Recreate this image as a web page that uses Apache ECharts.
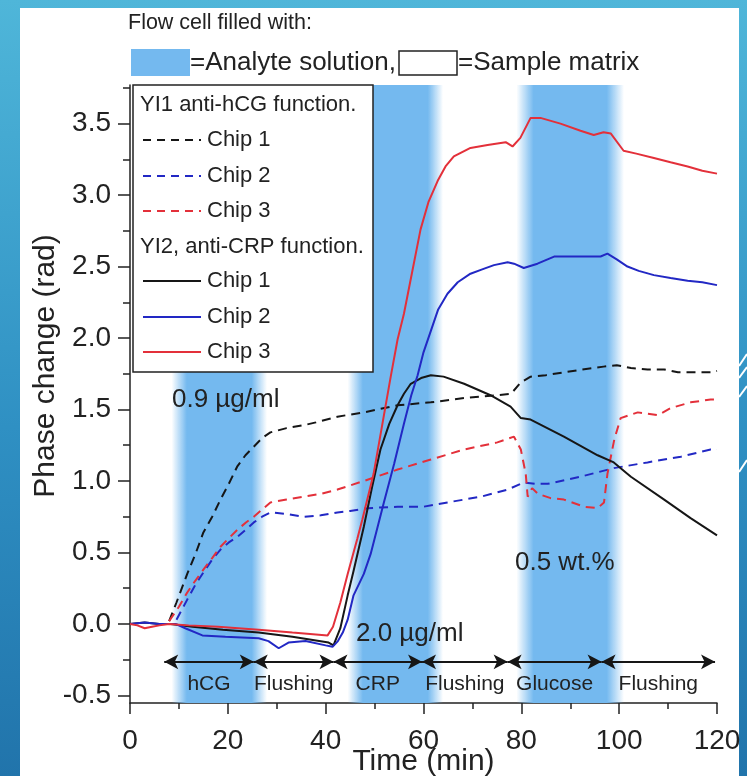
<!DOCTYPE html>
<html>
<head>
<meta charset="utf-8">
<title>Phase change</title>
<script src="https://cdn.jsdelivr.net/npm/echarts/dist/echarts.min.js"></script>
<style>
  html, body { margin: 0; padding: 0; }
  body {
    width: 747px; height: 776px; position: relative; overflow: hidden;
    background: linear-gradient(180deg, #4fb6d9 0%, #2f90c3 55%, #2174ab 100%);
  }
  #panel { position: absolute; left: 20px; top: 8px; width: 719px; height: 768px; background: #fff; }
  #chart { position: absolute; left: 0; top: 0; width: 747px; height: 776px; }
</style>
</head>
<body>
<div id="panel"></div>
<div id="chart"></div>
<script>
const FONT = '"Liberation Sans", Arial, sans-serif'
const INK = '#222'
const BLACK = '#161616'
const BLUE = '#2228c4'
const RED = '#e3303a'
const BAND = '#74b9ef'

// YI1, anti-hCG function (dashed)
const hcgChip1T = [8, 9.5, 11.7, 13.5, 15, 16.8, 18.5, 20.2, 21.9, 23.6, 25.3, 27, 28.7, 32, 35.5, 38, 42.4, 47.8, 54.7, 61.5, 68.3, 75.1, 77.9, 79.9, 81.9, 85, 88.7, 92.5, 96.8, 99.5, 102.4, 105.8, 109.2, 112, 114.6, 118.7, 120]
const hcgChip1V = [0.02, 0.15, 0.35, 0.5, 0.64, 0.75, 0.87, 0.98, 1.1, 1.18, 1.24, 1.3, 1.34, 1.37, 1.39, 1.41, 1.45, 1.48, 1.53, 1.55, 1.58, 1.6, 1.61, 1.69, 1.73, 1.74, 1.76, 1.78, 1.8, 1.81, 1.79, 1.78, 1.78, 1.76, 1.76, 1.76, 1.77]
const hcgChip2T = [9.5, 11.7, 13.3, 15, 16.8, 18.5, 20.2, 22, 23.7, 25.3, 27, 28.7, 32, 35.5, 39, 42.4, 45, 48.6, 54.7, 60, 64.9, 71.7, 77.2, 80.5, 83, 85.4, 92.1, 98.9, 105.8, 112.6, 118.7, 120]
const hcgChip2V = [0.03, 0.17, 0.27, 0.36, 0.45, 0.52, 0.57, 0.61, 0.66, 0.71, 0.75, 0.78, 0.77, 0.75, 0.76, 0.78, 0.79, 0.81, 0.82, 0.82, 0.85, 0.89, 0.94, 0.99, 0.98, 0.98, 1.03, 1.09, 1.13, 1.17, 1.22, 1.22]
const hcgChip3T = [8, 10, 11.7, 13.3, 15, 16.8, 18.5, 20.2, 22, 23.7, 25.3, 27, 28.7, 32, 35.5, 39, 42.4, 47.8, 54.7, 61.5, 68.3, 75.1, 78.5, 79.9, 80.9, 81.3, 82.2, 83.4, 86, 88.7, 92.8, 95.6, 96.9, 97.6, 99, 100.3, 102, 103.8, 107.9, 110.5, 114.6, 118.7, 120]
const hcgChip3V = [0.02, 0.12, 0.22, 0.3, 0.38, 0.46, 0.54, 0.6, 0.66, 0.71, 0.75, 0.8, 0.85, 0.87, 0.89, 0.91, 0.94, 1.0, 1.08, 1.15, 1.22, 1.27, 1.31, 1.22, 1.05, 0.89, 0.95, 0.91, 0.88, 0.87, 0.82, 0.81, 0.85, 1.05, 1.29, 1.44, 1.46, 1.48, 1.46, 1.51, 1.55, 1.57, 1.57]

// YI2, anti-CRP function (solid)
const crpChip1T = [0, 3, 6, 8.3, 12.8, 19, 26.3, 33.2, 40.6, 41.6, 43, 44.5, 45.7, 47.8, 49.5, 51.2, 53, 54.7, 56, 57.4, 59.5, 61.5, 64.1, 68.3, 73.7, 77.8, 79.9, 81.9, 88.7, 95.6, 98.9, 102.4, 109.2, 114.6, 120]
const crpChip1V = [0, 0.01, 0, 0, -0.02, -0.04, -0.06, -0.09, -0.13, -0.15, -0.03, 0.2, 0.37, 0.68, 0.96, 1.22, 1.4, 1.53, 1.61, 1.68, 1.72, 1.74, 1.73, 1.68, 1.6, 1.52, 1.44, 1.43, 1.31, 1.18, 1.13, 1.03, 0.87, 0.74, 0.62]
const crpChip2T = [0, 3, 6, 9.3, 11.3, 14.8, 19.5, 26.3, 28.3, 30.4, 32.4, 35.9, 40, 41.4, 42.5, 43.5, 44.5, 45.7, 47.8, 49.2, 51.9, 54, 56, 57.5, 58.8, 60, 61.5, 63, 64.9, 67, 69.6, 72, 74.4, 77.2, 78.5, 80.5, 83.3, 86.7, 90.8, 96.2, 97.6, 99.5, 101.7, 104, 107.1, 110.5, 114, 117, 120]
const crpChip2V = [0, 0.01, 0, 0, -0.03, -0.08, -0.09, -0.1, -0.12, -0.17, -0.13, -0.12, -0.15, -0.16, -0.12, -0.06, 0.03, 0.2, 0.35, 0.49, 0.85, 1.12, 1.4, 1.6, 1.74, 1.9, 2.05, 2.2, 2.31, 2.39, 2.45, 2.48, 2.51, 2.53, 2.52, 2.49, 2.52, 2.57, 2.57, 2.57, 2.59, 2.55, 2.5, 2.47, 2.44, 2.42, 2.4, 2.39, 2.37]
const crpChip3T = [0, 1.5, 3, 4.5, 6, 8, 12, 18, 26.3, 33.2, 40.4, 41.5, 43, 44.5, 45.7, 46.5, 47.5, 49.8, 51.5, 53.3, 54.7, 56, 57.5, 59.4, 61, 62.9, 64.5, 66.2, 69.6, 73.1, 76.8, 78.2, 79.8, 81.9, 83.9, 88, 92.1, 94.8, 96.8, 98.3, 100.9, 103.5, 107.1, 110.5, 114, 117, 120]
const crpChip3V = [0, -0.01, -0.03, -0.02, -0.01, 0, -0.01, -0.02, -0.04, -0.06, -0.08, -0.02, 0.15, 0.35, 0.5, 0.6, 0.73, 1.05, 1.38, 1.73, 1.99, 2.17, 2.43, 2.76, 2.95, 3.1, 3.2, 3.27, 3.33, 3.35, 3.37, 3.34, 3.4, 3.54, 3.54, 3.5, 3.45, 3.42, 3.44, 3.43, 3.31, 3.29, 3.26, 3.23, 3.2, 3.17, 3.15]

// flow cell filled with analyte solution (min)
const bandStart = [8.5, 44.5, 79]
const bandEnd = [28, 64, 101]

// protocol arrows along the bottom
const phaseEdges = [7, 25.3, 41.6, 59.7, 77.2, 96.4, 119.6]
const phaseNames = ['hCG', 'Flushing', 'CRP', 'Flushing', 'Glucose', 'Flushing']
const phaseLevel = -0.265

// axes
const yLabels = [-0.5, 0, 0.5, 1, 1.5, 2, 2.5, 3, 3.5]
const yMinor = [-0.25, 0.25, 0.75, 1.25, 1.75, 2.25, 2.75, 3.25, 3.75]
const Y_MIN = -0.553
const Y_MAX = 3.77

const pair = (t, v) => t.map((x, i) => [x, v[i]])

function curve (name, t, v, color, type) {
  return {
    name: name,
    type: 'line',
    data: pair(t, v),
    showSymbol: false,
    symbol: 'none',
    z: 3,
    lineStyle: { color: color, width: 2, type: type === 'dashed' ? [9, 6] : 'solid' },
    itemStyle: { color: color },
    animation: false
  }
}

const bandColor = new echarts.graphic.LinearGradient(0, 0, 1, 0, [
  { offset: 0, color: 'rgba(116,185,239,0)' },
  { offset: 0.16, color: BAND },
  { offset: 0.84, color: BAND },
  { offset: 1, color: 'rgba(116,185,239,0)' }
])

// legend and annotations
const txt = (x, y, s, size, extra) => Object.assign({
  type: 'text', x: x, y: y, z: 101,
  style: { text: s, fill: INK, font: size + 'px ' + FONT, textVerticalAlign: 'middle' }
}, extra || {})
const seg = (x1, x2, y, color, dashed) => ({
  type: 'line', z: 101,
  shape: { x1: x1, y1: y, x2: x2, y2: y },
  style: { stroke: color, lineWidth: 2, lineDash: dashed ? [8, 6] : null }
})

const legendRows = [
  { y: 140, c: BLACK, d: true }, { y: 176, c: BLUE, d: true }, { y: 211, c: RED, d: true },
  { y: 281, c: BLACK, d: false }, { y: 317, c: BLUE, d: false }, { y: 352, c: RED, d: false }
]
const legendGraphic = [
  { type: 'rect', z: 100, shape: { x: 133, y: 85, width: 240, height: 287 }, style: { fill: '#fff', stroke: INK, lineWidth: 1.5 } },
  txt(140, 105, 'YI1 anti-hCG function.', 22),
  txt(140, 247, 'YI2, anti-CRP function.', 22)
]
legendRows.forEach((r, i) => {
  legendGraphic.push(seg(143, 201, r.y, r.c, r.d))
  legendGraphic.push(txt(207, r.y, 'Chip ' + (i % 3 + 1), 22))
})

const chart = echarts.init(document.getElementById('chart'))
chart.setOption({
  animation: false,
  backgroundColor: 'transparent',
  grid: { left: 130, right: 30, top: 85, bottom: 73, outerBoundsMode: 'none', containLabel: false },
  xAxis: {
    type: 'value', min: 0, max: 120, interval: 20,
    name: 'Time (min)', nameLocation: 'middle', nameGap: 44, nameMoveOverlap: false,
    nameTextStyle: { fontSize: 30, color: INK, fontFamily: FONT, verticalAlign: 'top' },
    axisLine: { onZero: false, lineStyle: { color: INK, width: 1.5 } },
    axisTick: { length: 11, lineStyle: { color: INK, width: 1.5 } },
    minorTick: { show: true, splitNumber: 2, length: 6, lineStyle: { color: INK, width: 1.5 } },
    axisLabel: { fontSize: 28, color: INK, fontFamily: FONT, margin: 24 },
    splitLine: { show: false }, minorSplitLine: { show: false }
  },
  yAxis: [{
    type: 'value', min: Y_MIN, max: Y_MAX, position: 'left',
    axisLine: { show: true, onZero: false, lineStyle: { color: INK, width: 1.5 } },
    axisTick: { show: true, length: 12, customValues: yLabels, lineStyle: { color: INK, width: 1.5 } },
    axisLabel: { customValues: yLabels, formatter: v => v.toFixed(1), fontSize: 28, color: INK, fontFamily: FONT, margin: 19 },
    splitLine: { show: false }
  }, {
    type: 'value', min: Y_MIN, max: Y_MAX, position: 'left',
    axisLine: { show: false },
    axisTick: { show: true, length: 7, customValues: yMinor, lineStyle: { color: INK, width: 1.5 } },
    axisLabel: { show: false },
    splitLine: { show: false }
  }],
  series: [
    {
      name: 'analyte', type: 'line', data: [], z: 1, silent: true,
      markArea: {
        silent: true,
        itemStyle: { color: bandColor },
        data: bandStart.map((s, i) => [{ xAxis: s }, { xAxis: bandEnd[i] }])
      }
    },
    curve('YI1 Chip 1', hcgChip1T, hcgChip1V, BLACK, 'dashed'),
    curve('YI1 Chip 2', hcgChip2T, hcgChip2V, BLUE, 'dashed'),
    curve('YI1 Chip 3', hcgChip3T, hcgChip3V, RED, 'dashed'),
    curve('YI2 Chip 1', crpChip1T, crpChip1V, BLACK, 'solid'),
    curve('YI2 Chip 2', crpChip2T, crpChip2V, BLUE, 'solid'),
    curve('YI2 Chip 3', crpChip3T, crpChip3V, RED, 'solid'),
    {
      name: 'protocol', type: 'line', data: [], z: 4, silent: true,
      markLine: {
        silent: true,
        symbol: ['arrow', 'arrow'],
        symbolSize: [11, 14],
        lineStyle: { color: BLACK, width: 2, type: 'solid' },
        label: {
          show: true, position: 'insideMiddleBottom', distance: 12,
          formatter: '{b}', fontSize: 21, color: INK, fontFamily: FONT
        },
        data: phaseNames.map((n, i) => [
          { name: n, coord: [phaseEdges[i], phaseLevel] },
          { coord: [phaseEdges[i + 1], phaseLevel] }
        ])
      }
    }
  ],
  graphic: [
    // slide decoration on the right edge
    { type: 'line', shape: { x1: 747, y1: 354, x2: 739, y2: 366 }, style: { stroke: '#fff', lineWidth: 2 } },
    { type: 'line', shape: { x1: 747, y1: 367, x2: 739, y2: 378 }, style: { stroke: '#fff', lineWidth: 2 } },
    { type: 'line', shape: { x1: 747, y1: 386, x2: 739, y2: 397 }, style: { stroke: '#fff', lineWidth: 2 } },
    { type: 'line', shape: { x1: 747, y1: 460, x2: 739, y2: 472 }, style: { stroke: '#fff', lineWidth: 2 } },
    // header
    txt(128, 23, 'Flow cell filled with:', 21.5),
    { type: 'rect', z: 101, shape: { x: 131, y: 49, width: 59, height: 27 }, style: { fill: BAND } },
    txt(190, 63, '=Analyte solution,', 26),
    { type: 'rect', z: 101, shape: { x: 399, y: 51, width: 58, height: 24 }, style: { fill: '#fff', stroke: INK, lineWidth: 1.5 } },
    txt(458, 63, '=Sample matrix', 26),
    // y axis title
    {
      type: 'text', x: 46, y: 366, rotation: Math.PI / 2, z: 101,
      style: { text: 'Phase change (rad)', fill: INK, font: '30px ' + FONT, textAlign: 'center', textVerticalAlign: 'middle' }
    },
    // concentrations
    txt(172, 400, '0.9 µg/ml', 26),
    txt(356, 634, '2.0 µg/ml', 26),
    txt(515, 563, '0.5 wt.%', 26)
  ].concat(legendGraphic)
})
</script>
</body>
</html>
